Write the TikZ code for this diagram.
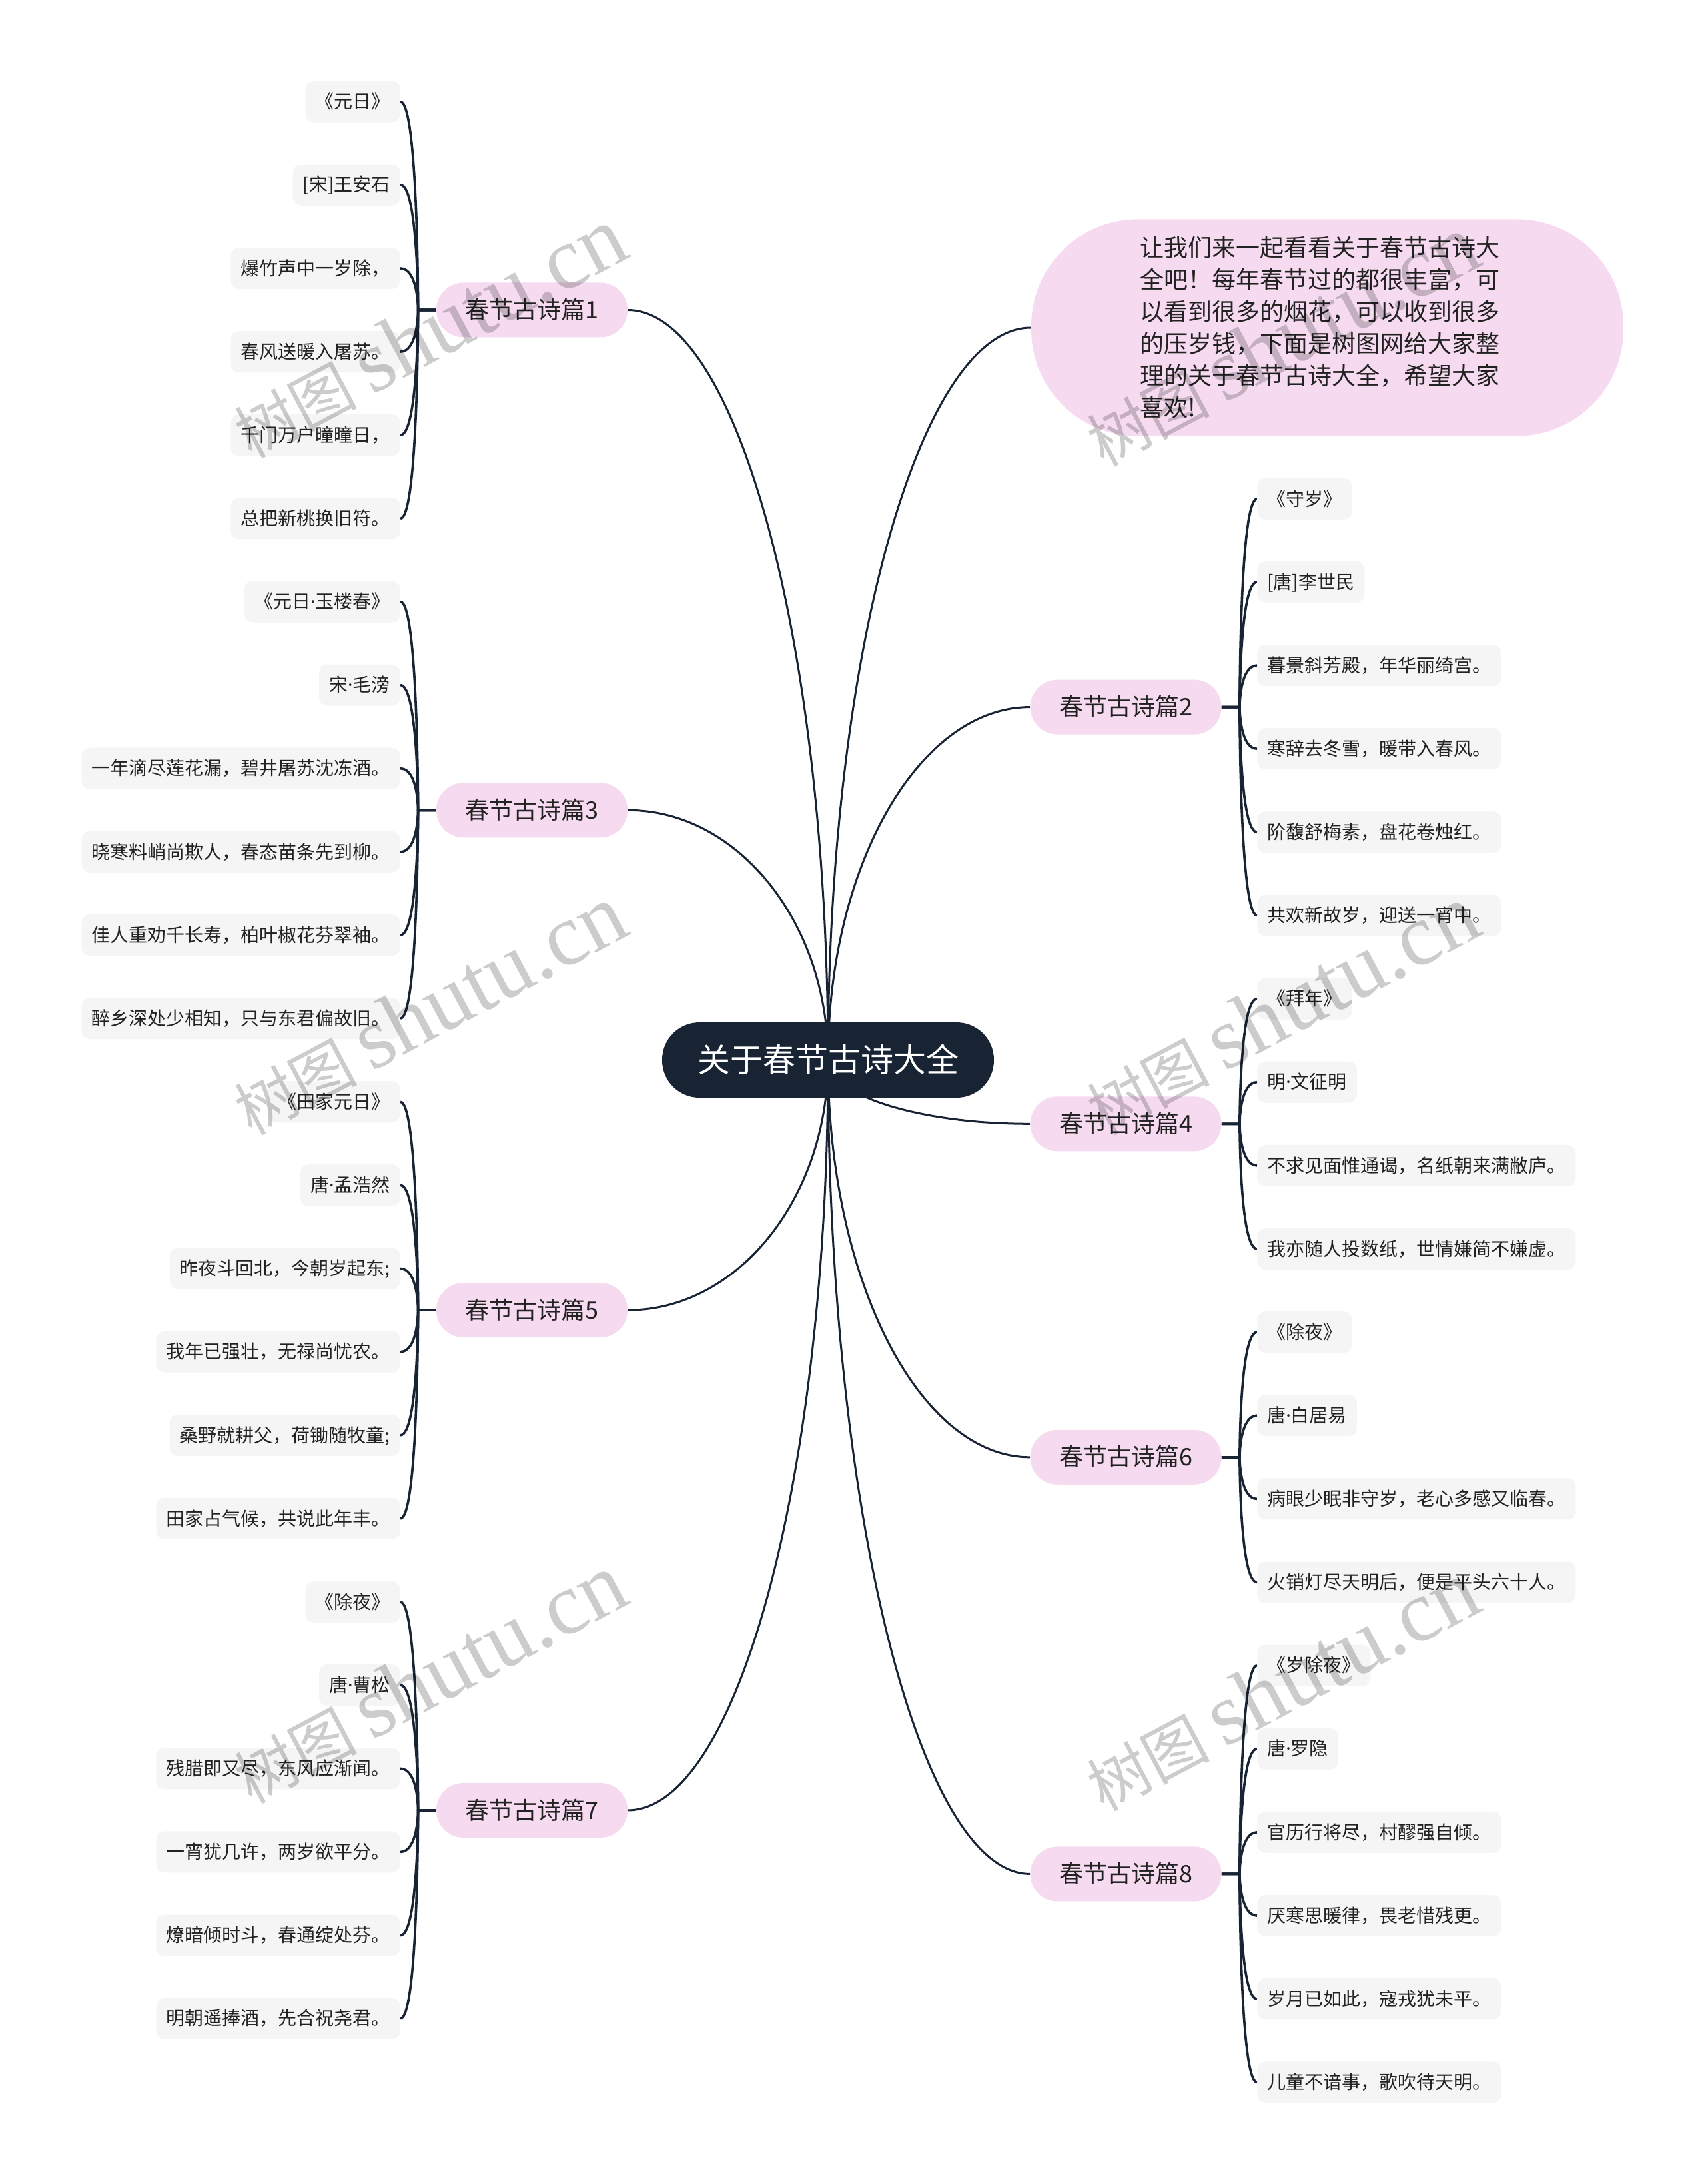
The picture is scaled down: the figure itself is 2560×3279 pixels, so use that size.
\documentclass[tikz,border=0pt]{standalone}
\usepackage{fontspec}
\setmainfont{Noto Sans CJK SC}
\newfontfamily\wmlat{Liberation Serif}
\newfontfamily\latsans{Noto Sans}
\newcommand{\mdot}{{\latsans ·}}
\usetikzlibrary{calc}
\pgfdeclarelayer{bg}
\pgfdeclarelayer{fg}
\pgfsetlayers{bg,main,fg}
\definecolor{navy}{RGB}{24,35,52}
\definecolor{pinkfill}{RGB}{246,219,240}
\definecolor{leaffill}{RGB}{245,245,245}
\definecolor{txt}{RGB}{34,34,34}
\tikzset{
 rootnode/.style={fill=navy, text=white, rounded corners=28pt, minimum width=249pt, minimum height=56.5pt, inner sep=0pt, text height=20.3pt, text depth=2.4pt, font=\fontsize{24.5pt}{28pt}\selectfont},
 topicnode/.style={fill=pinkfill, text=txt, rounded corners=20.4pt, minimum width=143.5pt, minimum height=41pt, inner sep=0pt, text height=14.9pt, text depth=1.8pt, font=\fontsize{18pt}{20pt}\selectfont},
 leafnode/.style={fill=leaffill, text=txt, rounded corners=6pt, minimum height=31pt, inner xsep=7.5pt, inner ysep=0pt, text height=11.6pt, text depth=1.4pt, font=\fontsize{14pt}{16pt}\selectfont},
 leafL/.style={leafnode, anchor=east},
 leafR/.style={leafnode, anchor=west},
 introbox/.style={fill=pinkfill, text=txt, rounded corners=80pt, minimum width=444.5pt, minimum height=162.5pt, text width=281pt, align=left, inner sep=0pt, font=\fontsize{18pt}{24pt}\selectfont},
 link/.style={draw=navy, line width=1.5pt},
 leaflink/.style={draw=navy, line width=1.8pt},
 wm/.style={text=black, text opacity=0.2, rotate=28, inner sep=0pt},
}
\newcommand{\mmLinkL}[1]{\draw[link] (root.center) .. controls ($(root.center)!0.55!(root.center|-#1.east)$) and ($(#1.east)!0.55!(root.center|-#1.east)$) .. (#1.east);}
\newcommand{\mmLinkR}[1]{\draw[link] (root.center) .. controls ($(root.center)!0.55!(root.center|-#1.west)$) and ($(#1.west)!0.55!(root.center|-#1.west)$) .. (#1.west);}
\newcommand{\mmLeafL}[3]{\draw[leaflink] (#1.west) -- (#2) .. controls (#2) and (#2|-#3.east) .. (#3.east);}
\newcommand{\mmLeafR}[3]{\draw[leaflink] (#1.east) -- (#2) .. controls (#2) and (#2|-#3.west) .. (#3.west);}
\begin{document}
\begin{tikzpicture}[x=0.5pt,y=-0.5pt]
\useasboundingbox (0,0) rectangle (2560,3279);
\begin{pgfonlayer}{bg}
\fill[white] (0,0) rectangle (2560,3279);
\end{pgfonlayer}

% root and topics
\node[rootnode] (root) at (1243,1591.5) {关于春节古诗大全};
\node[topicnode] (t1) at (798.5,465.5) {春节古诗篇1};
\node[topicnode] (t3) at (798.5,1216.3) {春节古诗篇3};
\node[topicnode] (t5) at (798.5,1967.1) {春节古诗篇5};
\node[topicnode] (t7) at (798.5,2717.9) {春节古诗篇7};
\node[topicnode] (t2) at (1690,1061.6) {春节古诗篇2};
\node[topicnode] (t4) at (1690,1687.3) {春节古诗篇4};
\node[topicnode] (t6) at (1690,2187.8) {春节古诗篇6};
\node[topicnode] (t8) at (1690,2813.4) {春节古诗篇8};
\node[introbox] (intro) at (1992.5,492) {让我们来一起看看关于春节古诗大\\全吧！每年春节过的都很丰富，可\\以看到很多的烟花，可以收到很多\\的压岁钱，下面是树图网给大家整\\理的关于春节古诗大全，希望大家\\喜欢!};

% junctions
\coordinate (j1) at ($(t1.west)+(-27,0)$);
\coordinate (j3) at ($(t3.west)+(-27,0)$);
\coordinate (j5) at ($(t5.west)+(-27,0)$);
\coordinate (j7) at ($(t7.west)+(-27,0)$);
\coordinate (j2) at ($(t2.east)+(27,0)$);
\coordinate (j4) at ($(t4.east)+(27,0)$);
\coordinate (j6) at ($(t6.east)+(27,0)$);
\coordinate (j8) at ($(t8.east)+(27,0)$);

% left leaves
\node[leafL] (l0) at (601,152.7) {《元日》};
\node[leafL] (l1) at (601,277.8) {[宋]王安石};
\node[leafL] (l2) at (601,403.0) {爆竹声中一岁除，};
\node[leafL] (l3) at (601,528.1) {春风送暖入屠苏。};
\node[leafL] (l4) at (601,653.2) {千门万户曈曈日，};
\node[leafL] (l5) at (601,778.4) {总把新桃换旧符。};
\node[leafL] (l6) at (601,903.5) {《元日\mdot 玉楼春》};
\node[leafL] (l7) at (601,1028.6) {宋\mdot 毛滂};
\node[leafL] (l8) at (601,1153.7) {一年滴尽莲花漏，碧井屠苏沈冻酒。};
\node[leafL] (l9) at (601,1278.9) {晓寒料峭尚欺人，春态苗条先到柳。};
\node[leafL] (l10) at (601,1404.0) {佳人重劝千长寿，柏叶椒花芬翠袖。};
\node[leafL] (l11) at (601,1529.1) {醉乡深处少相知，只与东君偏故旧。};
\node[leafL] (l12) at (601,1654.3) {《田家元日》};
\node[leafL] (l13) at (601,1779.4) {唐\mdot 孟浩然};
\node[leafL] (l14) at (601,1904.5) {昨夜斗回北，今朝岁起东;};
\node[leafL] (l15) at (601,2029.7) {我年已强壮，无禄尚忧农。};
\node[leafL] (l16) at (601,2154.8) {桑野就耕父，荷锄随牧童;};
\node[leafL] (l17) at (601,2279.9) {田家占气候，共说此年丰。};
\node[leafL] (l18) at (601,2405.0) {《除夜》};
\node[leafL] (l19) at (601,2530.2) {唐\mdot 曹松};
\node[leafL] (l20) at (601,2655.3) {残腊即又尽，东风应渐闻。};
\node[leafL] (l21) at (601,2780.4) {一宵犹几许，两岁欲平分。};
\node[leafL] (l22) at (601,2905.6) {燎暗倾时斗，春通绽处芬。};
\node[leafL] (l23) at (601,3030.7) {明朝遥捧酒，先合祝尧君。};

% right leaves
\node[leafR] (r0) at (1887,748.8) {《守岁》};
\node[leafR] (r1) at (1887,873.9) {[唐]李世民};
\node[leafR] (r2) at (1887,999.1) {暮景斜芳殿，年华丽绮宫。};
\node[leafR] (r3) at (1887,1124.2) {寒辞去冬雪，暖带入春风。};
\node[leafR] (r4) at (1887,1249.3) {阶馥舒梅素，盘花卷烛红。};
\node[leafR] (r5) at (1887,1374.5) {共欢新故岁，迎送一宵中。};
\node[leafR] (r6) at (1887,1499.6) {《拜年》};
\node[leafR] (r7) at (1887,1624.7) {明\mdot 文征明};
\node[leafR] (r8) at (1887,1749.8) {不求见面惟通谒，名纸朝来满敝庐。};
\node[leafR] (r9) at (1887,1875.0) {我亦随人投数纸，世情嫌简不嫌虚。};
\node[leafR] (r10) at (1887,2000.1) {《除夜》};
\node[leafR] (r11) at (1887,2125.2) {唐\mdot 白居易};
\node[leafR] (r12) at (1887,2250.4) {病眼少眠非守岁，老心多感又临春。};
\node[leafR] (r13) at (1887,2375.5) {火销灯尽天明后，便是平头六十人。};
\node[leafR] (r14) at (1887,2500.6) {《岁除夜》};
\node[leafR] (r15) at (1887,2625.7) {唐\mdot 罗隐};
\node[leafR] (r16) at (1887,2750.9) {官历行将尽，村醪强自倾。};
\node[leafR] (r17) at (1887,2876.0) {厌寒思暖律，畏老惜残更。};
\node[leafR] (r18) at (1887,3001.1) {岁月已如此，寇戎犹未平。};
\node[leafR] (r19) at (1887,3126.3) {儿童不谙事，歌吹待天明。};

% connectors
\begin{pgfonlayer}{bg}
\mmLinkL{t1}\mmLinkL{t3}\mmLinkL{t5}\mmLinkL{t7}
\mmLinkR{intro}\mmLinkR{t2}\mmLinkR{t4}\mmLinkR{t6}\mmLinkR{t8}
\foreach \i in {0,...,5} {\mmLeafL{t1}{j1}{l\i}}
\foreach \i in {6,...,11} {\mmLeafL{t3}{j3}{l\i}}
\foreach \i in {12,...,17} {\mmLeafL{t5}{j5}{l\i}}
\foreach \i in {18,...,23} {\mmLeafL{t7}{j7}{l\i}}
\foreach \i in {0,...,5} {\mmLeafR{t2}{j2}{r\i}}
\foreach \i in {6,...,9} {\mmLeafR{t4}{j4}{r\i}}
\foreach \i in {10,...,13} {\mmLeafR{t6}{j6}{r\i}}
\foreach \i in {14,...,19} {\mmLeafR{t8}{j8}{r\i}}
\end{pgfonlayer}

% watermarks
\begin{pgfonlayer}{fg}
\node[wm] (wm1) at (644,500) {\fontsize{46pt}{46pt}\selectfont 树图\ {\wmlat\fontsize{66pt}{66pt}\selectfont shutu.cn}};
\node[wm] (wm2) at (1924,512) {\fontsize{46pt}{46pt}\selectfont 树图\ {\wmlat\fontsize{66pt}{66pt}\selectfont shutu.cn}};
\node[wm] (wm3) at (644,1516) {\fontsize{46pt}{46pt}\selectfont 树图\ {\wmlat\fontsize{66pt}{66pt}\selectfont shutu.cn}};
\node[wm] (wm4) at (1924,1516) {\fontsize{46pt}{46pt}\selectfont 树图\ {\wmlat\fontsize{66pt}{66pt}\selectfont shutu.cn}};
\node[wm] (wm5) at (644,2520) {\fontsize{46pt}{46pt}\selectfont 树图\ {\wmlat\fontsize{66pt}{66pt}\selectfont shutu.cn}};
\node[wm] (wm6) at (1924,2531) {\fontsize{46pt}{46pt}\selectfont 树图\ {\wmlat\fontsize{66pt}{66pt}\selectfont shutu.cn}};
\end{pgfonlayer}
\end{tikzpicture}
\end{document}
